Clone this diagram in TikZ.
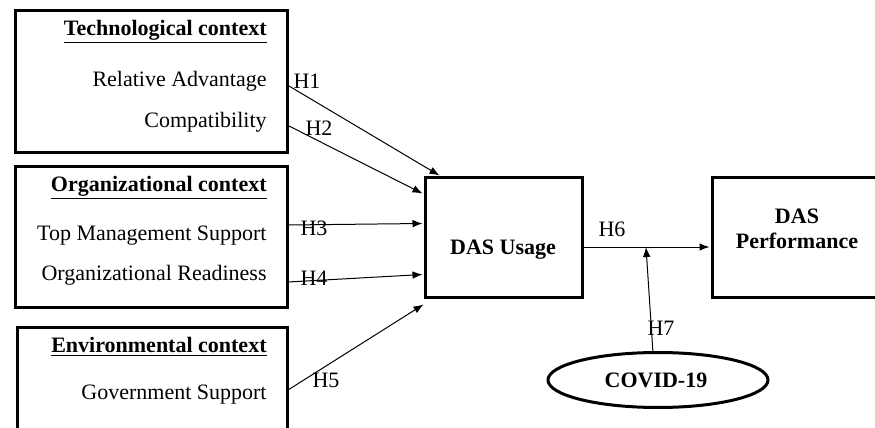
\documentclass[tikz,border=0pt]{standalone}
\usepackage{fontspec}
\setmainfont{Liberation Serif}
\usetikzlibrary{calc,arrows.meta,shapes.geometric,fit}
\begin{document}
\begin{tikzpicture}[x=0.5pt,y=-0.5pt,
  txt/.style={font=\fontsize{11}{12.5}\selectfont,inner sep=0pt},
  item/.style={txt,anchor=east},
  head/.style={txt,anchor=east,font=\fontsize{11}{12.5}\selectfont\bfseries},
  box/.style={draw,line width=1.5pt,inner sep=0pt},
  hlab/.style={txt},
  conn/.style={line width=0.5pt,-{Latex[length=5pt,width=3.8pt]}}]
\useasboundingbox (0,0) rectangle (875,428);
\clip (0,0) rectangle (875,428);
% boxes
\node[box,fit={(15,10) (287,152)}] (tech) {};
\node[box,fit={(15,166) (287,307)}] (org) {};
\node[box,fit={(17,327) (287,468)}] (env) {};
\node[box,fit={(425,177) (582,297)}] (usage) {};
\node[box,fit={(712,177) (882,297)}] (perf) {};
\node[draw,ellipse,line width=1.5pt,minimum width=110pt,minimum height=27.5pt,inner sep=0pt] (covid) at (658,380) {};
% texts
\node[head] (th) at (267,32) {\underline{Technological context}};
\node[item] (ra) at (267,81) {Relative Advantage};
\node[item] (co) at (267,122) {Compatibility};
\node[head] (oh) at (267,188) {\underline{Organizational context}};
\node[item] (tm) at (267,236) {Top Management Support};
\node[item] (orr) at (267,275) {Organizational Readiness};
\node[head] (eh) at (267,347) {\underline{Environmental context}};
\node[item] (gs) at (267,395) {Government Support};
\node[txt,font=\fontsize{11}{12.5}\selectfont\bfseries] (ut) at (503,250) {DAS Usage};
\node[txt,font=\fontsize{11}{12.5}\selectfont\bfseries,align=center] (pt) at (797,229) {DAS\\Performance};
\node[txt,font=\fontsize{11}{12.5}\selectfont\bfseries] (ct) at (656,380) {COVID-19};
% connector end points
\coordinate (s1) at (289,86);
\coordinate (s2) at (289,126);
\coordinate (s3) at (288,225);
\coordinate (s4) at (288,282);
\coordinate (s5) at (288,390);
\coordinate (e1) at ($(usage.north west)+(16,0)$);
\coordinate (e2) at ($(usage.north west)+(-1,18)$);
\coordinate (e3) at ($(usage.north west)+(-1,48)$);
\coordinate (e4) at ($(usage.north west)+(-1,99)$);
\coordinate (e5) at ($(usage.south west)+(0,6)$);
\coordinate (u6) at ($(usage.east)+(0,10)$);
\coordinate (p6) at ($(perf.west)+(-1,10)$);
\coordinate (m7) at (646,247);
\coordinate (c7) at (653,353);
% connectors
\draw[conn] (s1) -- (e1);
\draw[conn] (s2) -- (e2);
\draw[conn] (s3) -- (e3);
\draw[conn] (s4) -- (e4);
\draw[conn] (s5) -- (e5);
\draw[conn] (u6) -- (p6);
\draw[conn] (c7) -- (m7);
% hypothesis labels
\node[hlab] (h1) at (307,81) {H1};
\node[hlab] (h2) at (319,128) {H2};
\node[hlab] (h3) at (314,228) {H3};
\node[hlab] (h4) at (314,278) {H4};
\node[hlab] (h5) at (326,380) {H5};
\node[hlab] (h6) at (612,229) {H6};
\node[hlab] (h7) at (661,328) {H7};
\end{tikzpicture}
\end{document}
